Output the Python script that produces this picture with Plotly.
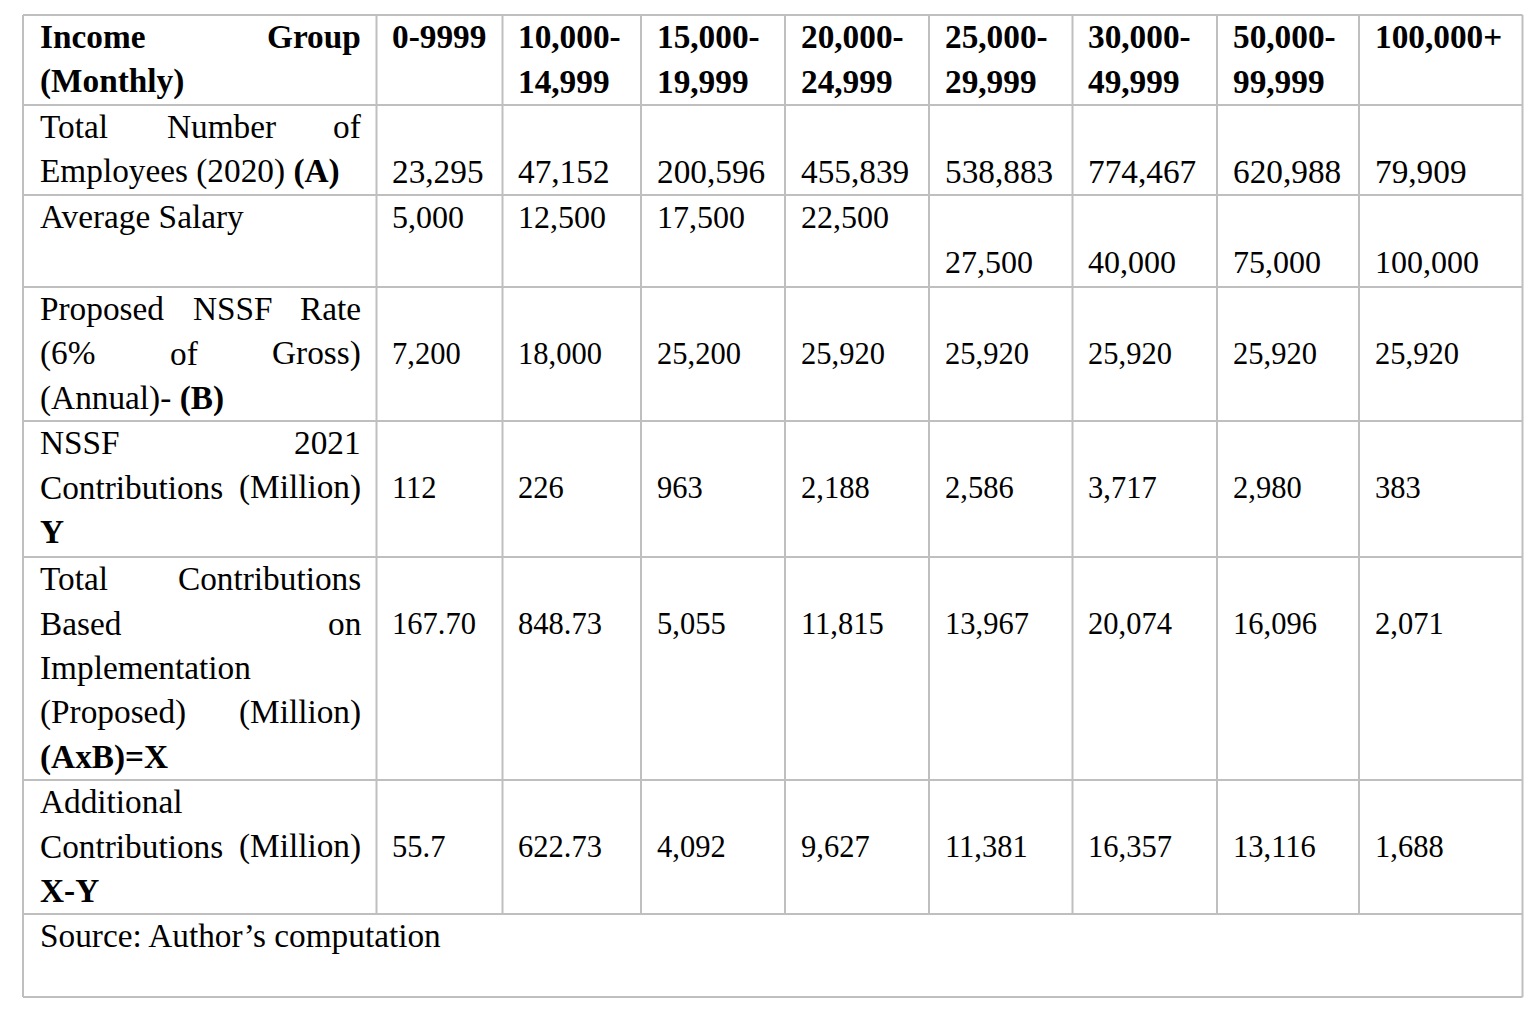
import plotly.graph_objects as go

# table content
income_groups = ["0-9999", "10,000-14,999", "15,000-19,999", "20,000-24,999",
                 "25,000-29,999", "30,000-49,999", "50,000-99,999", "100,000+"]
employees_2020 = ["23,295", "47,152", "200,596", "455,839", "538,883", "774,467", "620,988", "79,909"]
average_salary = ["5,000", "12,500", "17,500", "22,500", "27,500", "40,000", "75,000", "100,000"]
proposed_rate = ["7,200", "18,000", "25,200", "25,920", "25,920", "25,920", "25,920", "25,920"]
nssf_2021 = ["112", "226", "963", "2,188", "2,586", "3,717", "2,980", "383"]
total_proposed = ["167.70", "848.73", "5,055", "11,815", "13,967", "20,074", "16,096", "2,071"]
additional = ["55.7", "622.73", "4,092", "9,627", "11,381", "16,357", "13,116", "1,688"]

# row labels, one list of words per printed line ("*" = bold word)
row_labels = [
    [["*Income", "*Group"], ["*(Monthly)"]],
    [["Total", "Number", "of"], ["Employees", "(2020)", "*(A)"]],
    [["Average", "Salary"]],
    [["Proposed", "NSSF", "Rate"], ["(6%", "of", "Gross)"], ["(Annual)-", "*(B)"]],
    [["NSSF", "2021"], ["Contributions", "(Million)"], ["*Y"]],
    [["Total", "Contributions"], ["Based", "on"], ["Implementation"],
     ["(Proposed)", "(Million)"], ["*(AxB)=X"]],
    [["Additional"], ["Contributions", "(Million)"], ["*X-Y"]],
]
source_note = "Source: Author\u2019s computation"

value_rows = [employees_2020, average_salary, proposed_rate, nssf_2021, total_proposed, additional]

# layout (pixels, page coordinates)
col_edges = [23, 376.5, 502.5, 641, 785, 929, 1072.5, 1217, 1359, 1522.5]
row_edges = [15, 105, 195, 287, 421, 557, 780, 914, 997]
value_line = [1, [0, 0, 0, 0, 1, 1, 1, 1], 1, 1, 1, 1]
value_size = [33.3, 32, 30.5, 30.5, 30.5, 30.5]
LABEL_SIZE = 33.3
PAD = 15.5
FIRST_BASE = 33.2
LINE_STEP = 44.4
BODY_MARGIN = 8  # the html page puts the plot 8px in from the corner
FONT = "Liberation Serif, Times New Roman, serif"
GRID = "#bfbfbf"

# Times metrics (1/1000 em)
REG = {" ": 250, "%": 833, "(": 333, ")": 333, "+": 564, ",": 250, "-": 333, ".": 250,
       ":": 278, "=": 564, "\u2019": 333,
       "A": 722, "B": 667, "C": 667, "E": 611, "G": 722, "I": 333, "M": 889, "N": 722,
       "P": 556, "R": 667, "S": 556, "T": 611, "X": 722, "Y": 722,
       "a": 444, "b": 500, "c": 444, "d": 500, "e": 444, "f": 333, "g": 500, "h": 500,
       "i": 278, "l": 278, "m": 778, "n": 500, "o": 500, "p": 500, "r": 333, "s": 389,
       "t": 278, "u": 500, "v": 500, "x": 500, "y": 500}
BOLD = {" ": 250, "(": 333, ")": 333, "+": 570, ",": 250, "-": 333, ".": 250, "=": 570,
        "A": 722, "B": 667, "G": 778, "I": 389, "M": 944, "X": 722, "Y": 722,
        "c": 444, "e": 444, "h": 556, "l": 278, "m": 833, "n": 556, "o": 500, "p": 556,
        "r": 444, "t": 333, "u": 556, "x": 500, "y": 500}


def text_width(s, size, bold=False):
    table = BOLD if bold else REG
    return sum(table.get(ch, 500) for ch in s) * size / 1000


fig = go.Figure()


def put_text(text, x, baseline, size):
    fig.add_annotation(x=x, y=baseline - 0.3375 * size, text=text, showarrow=False,
                       xanchor="left", yanchor="middle", xref="x", yref="y",
                       borderpad=0, borderwidth=0,
                       font=dict(family=FONT, size=size, color="black"))


def put_line(words, x0, x1, baseline, size, justify):
    clean = [(w[1:], True) if w.startswith("*") else (w, False) for w in words]
    if justify and len(clean) > 1:
        widths = [text_width(w, size, b) for w, b in clean]
        gap = (x1 - x0 - sum(widths)) / (len(clean) - 1)
        x = x0
        for (w, b), wd in zip(clean, widths):
            put_text("<b>%s</b>" % w if b else w, x, baseline, size)
            x += wd + gap
    else:
        txt = " ".join("<b>%s</b>" % w if b else w for w, b in clean)
        put_text(txt, x0, baseline, size)


def baseline(row, k):
    return row_edges[row] + FIRST_BASE + k * LINE_STEP


# row labels (justified like the original)
lx0, lx1 = col_edges[0] + PAD + 1, col_edges[1] - PAD
for r, lines in enumerate(row_labels):
    for k, words in enumerate(lines):
        put_line(words, lx0, lx1, baseline(r, k), LABEL_SIZE, k < len(lines) - 1)

# header: income groups, wrapped after the hyphen when too wide
for c, grp in enumerate(income_groups):
    x0 = col_edges[c + 1] + PAD
    inner = col_edges[c + 2] - col_edges[c + 1] - 2 * PAD
    if text_width(grp, LABEL_SIZE, True) > inner and "-" in grp:
        head, tail = grp.split("-", 1)
        parts = [head + "-", tail]
    else:
        parts = [grp]
    for k, p in enumerate(parts):
        put_text("<b>%s</b>" % p, x0, baseline(0, k), LABEL_SIZE)

# body values
for i, vals in enumerate(value_rows):
    r = i + 1
    for c, v in enumerate(vals):
        k = value_line[i][c] if isinstance(value_line[i], list) else value_line[i]
        put_text(v, col_edges[c + 1] + PAD, baseline(r, k), value_size[i])

# source note
put_text(source_note, lx0, baseline(len(row_edges) - 2, 0), LABEL_SIZE)

# grid lines
line = dict(color=GRID, width=2)
for y in row_edges:
    fig.add_shape(type="line", x0=col_edges[0], x1=col_edges[-1], y0=y, y1=y,
                  xref="x", yref="y", line=line)
for x in col_edges:
    y_end = row_edges[-1] if x in (col_edges[0], col_edges[-1]) else row_edges[-2]
    fig.add_shape(type="line", x0=x, x1=x, y0=row_edges[0], y1=y_end,
                  xref="x", yref="y", line=line)

W, H = 1540, 1016
fig.update_xaxes(range=[BODY_MARGIN, W + BODY_MARGIN], visible=False, fixedrange=True)
fig.update_yaxes(range=[H + BODY_MARGIN, BODY_MARGIN], visible=False, fixedrange=True)
fig.update_layout(width=W, height=H, margin=dict(l=0, r=0, t=0, b=0),
                  paper_bgcolor="white", plot_bgcolor="white", showlegend=False)

fig.write_html("out.html")
